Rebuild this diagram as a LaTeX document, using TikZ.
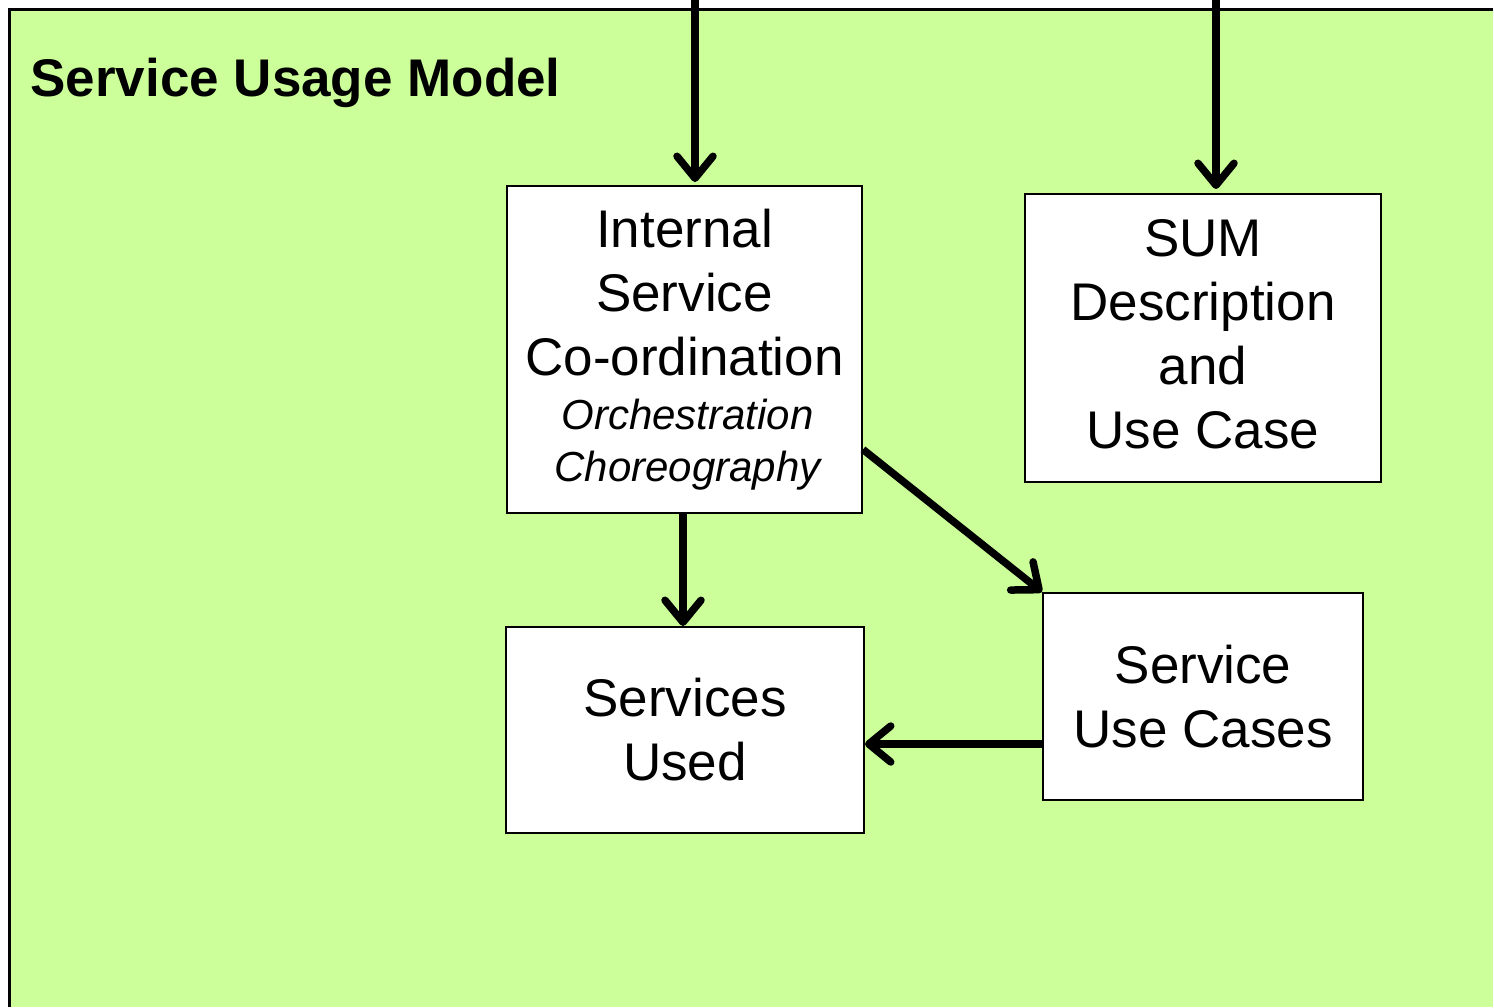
\documentclass[tikz,border=0pt]{standalone}
\usepackage{fontspec}
\setmainfont{Liberation Sans}
\usetikzlibrary{arrows.meta,calc}
\definecolor{bggreen}{HTML}{CCFF99}
\tikzset{
  box/.style={draw=black, line width=2pt, fill=white, inner sep=0pt, align=center,
    font=\fontsize{53}{64}\selectfont},
  flow/.style={line width=7.5pt, -{Straight Barb[length=22pt,width=36pt,round]}},
}
\begin{document}
\begin{tikzpicture}[x=1pt,y=-1pt]
\useasboundingbox (0,0) rectangle (1494,1007);
\fill[bggreen] (9,9) rectangle (1493,1007);
\draw[line width=3pt] (9,1007) -- (9,9) -- (1493,9);
\node[anchor=base west, font=\fontsize{53}{64}\selectfont\bfseries] (title) at (27,96) {Service Usage Model};
\node[box, minimum width=355pt, minimum height=327pt] (int) at (684.5,349.5)
  {Internal\\Service\\Co-ordination\\[-10pt]{\fontsize{42}{51}\selectfont\itshape\hspace*{6pt}Orchestration}\\[-12pt]{\fontsize{42}{51}\selectfont\itshape\hspace*{6pt}Choreography}};
\node[box, minimum width=356pt, minimum height=288pt] (sum) at (1203,338)
  {SUM\\Description\\and\\Use Case\rule[-8pt]{0pt}{8pt}};
\node[box, minimum width=358pt, minimum height=206pt] (su) at (685,730)
  {Services\\Used};
\node[box, minimum width=320pt, minimum height=207pt] (uc) at (1203,696.5)
  {Service\\Use Cases};
\coordinate (t1) at (695,0);
\coordinate (t2) at (1216,0);
\draw[flow] (t1) -- ($(t1 |- int.north)+(0,-3)$);
\draw[flow] (t2) -- ($(t2 |- sum.north)+(0,-4)$);
\draw[flow] ([xshift=-1.5pt]int.south) -- ([xshift=-2pt]su.north);
\draw[flow] ([yshift=-100pt]int.east) -- (uc.north west);
\draw[flow] ([yshift=-47.5pt]uc.west) -- ([yshift=-47.5pt]uc.west -| su.east);
\end{tikzpicture}
\end{document}
